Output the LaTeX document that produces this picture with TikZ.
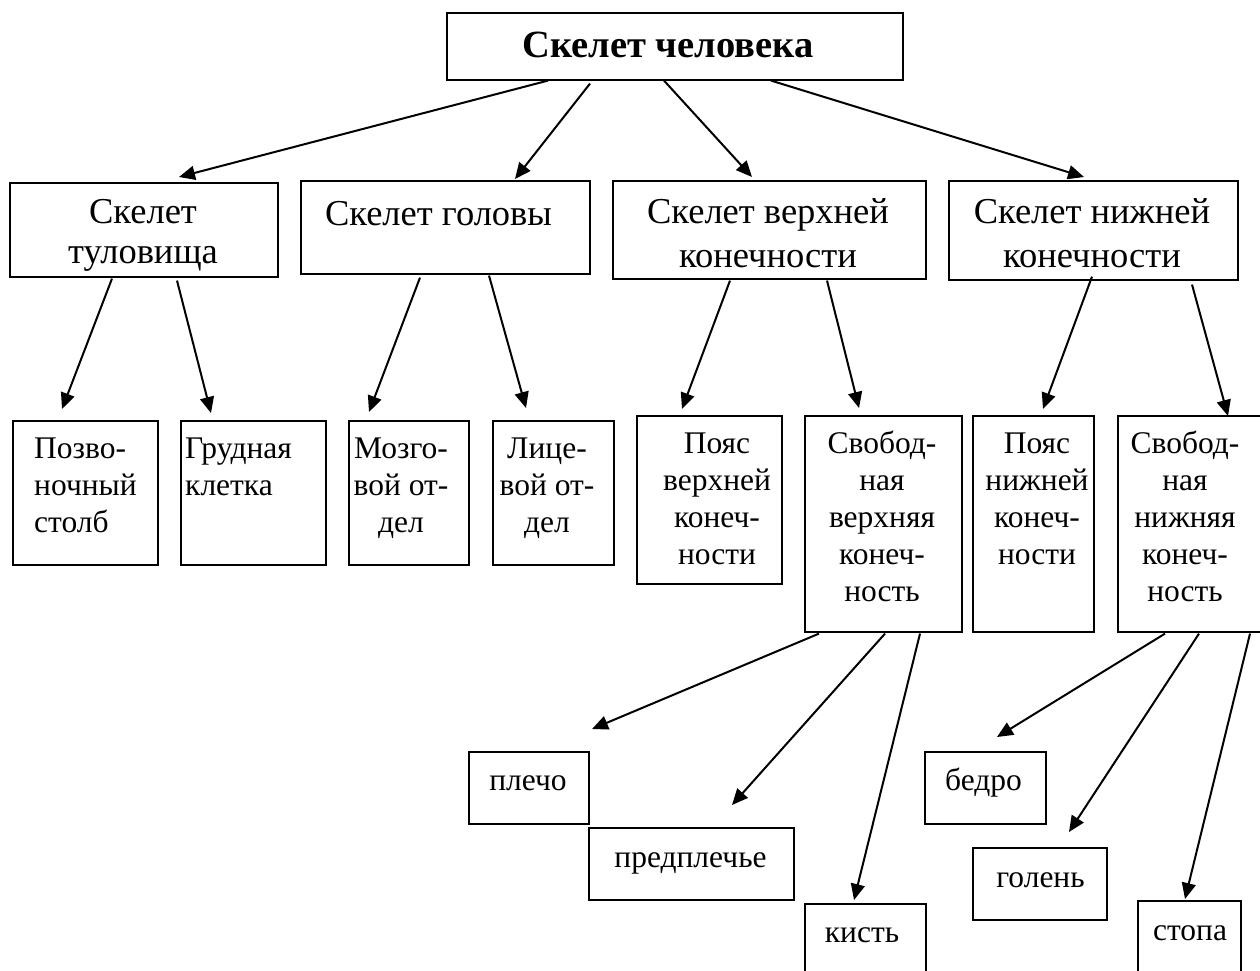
\documentclass[tikz,border=0pt]{standalone}
\usepackage{fontspec}
\setmainfont{Liberation Serif}
\usetikzlibrary{arrows.meta}
\newcommand\strutA{\rule{0pt}{32pt}}
\newcommand\strutB{\rule{0pt}{28pt}}
\begin{document}
\begin{tikzpicture}[x=1pt,y=-1pt,
  box/.style={draw, line width=1.6pt, inner sep=0pt, anchor=north west},
  arr/.style={line width=2pt, -{Triangle[length=16pt,width=14pt]}},
  big/.style={inner sep=0pt, font=\fontsize{36.5}{44}\selectfont},
  sm/.style={inner sep=0pt, font=\fontsize{31.5}{37}\selectfont}]
\fill[white] (0,0) rectangle (1260,971);
\useasboundingbox (0,0) rectangle (1260,971);
% boxes
\node[box, minimum width=456pt, minimum height=67pt] (top) at (446,12) {};
\node[box, minimum width=268pt, minimum height=94pt] (t1) at (9,182) {};
\node[box, minimum width=289pt, minimum height=93pt] (t2) at (300,180) {};
\node[box, minimum width=313pt, minimum height=98pt] (t3) at (612,180) {};
\node[box, minimum width=289pt, minimum height=99pt] (t4) at (948,180) {};
\node[box, minimum width=145pt, minimum height=144pt] (c1) at (12,420) {};
\node[box, minimum width=145pt, minimum height=144pt] (c2) at (180,420) {};
\node[box, minimum width=120pt, minimum height=144pt] (c3) at (348,420) {};
\node[box, minimum width=121pt, minimum height=144pt] (c4) at (492,420) {};
\node[box, minimum width=145pt, minimum height=168pt] (c5) at (636,415) {};
\node[box, minimum width=157pt, minimum height=216pt] (c6) at (804,415) {};
\node[box, minimum width=121pt, minimum height=216pt] (c7) at (972,415) {};
\node[box, minimum width=148pt, minimum height=216pt] (c8) at (1117,415) {};
\node[box, minimum width=120pt, minimum height=72pt] (d1) at (468,751) {};
\node[box, minimum width=205pt, minimum height=72pt] (d2) at (588,827) {};
\node[box, minimum width=121pt, minimum height=90pt] (d3) at (804,903) {};
\node[box, minimum width=121pt, minimum height=72pt] (e1) at (924,751) {};
\node[box, minimum width=134pt, minimum height=72pt] (e2) at (972,847) {};
\node[box, minimum width=103pt, minimum height=90pt] (e3) at (1137,900) {};
% texts
\node[inner sep=0pt, anchor=base, font=\fontsize{38.5}{44}\selectfont\bfseries] (topt) at (668,58) {Скелет человека};
\node[big, align=center, anchor=north, font=\fontsize{36.5}{40}\selectfont] (t1t) at (143,191) {\strutA Скелет\\туловища};
\node[big, anchor=base] (t2t) at (438.5,225) {Скелет головы};
\node[big, align=center, anchor=north] (t3t) at (768,191) {\strutA Скелет верхней\\конечности};
\node[big, align=center, anchor=north] (t4t) at (1092,191) {\strutA Скелет нижней\\конечности};
\node[sm, align=left, anchor=north west] (c1t) at (34,430) {\strutB Позво-\\ночный\\столб};
\node[sm, align=left, anchor=north west] (c2t) at (185,430) {\strutB Грудная\\клетка};
\node[sm, align=center, anchor=north] (c3t) at (401,430) {\strutB Мозго-\\вой от-\\дел};
\node[sm, align=center, anchor=north] (c4t) at (547,430) {\strutB Лице-\\вой от-\\дел};
\node[sm, align=center, anchor=north] (c5t) at (717,425) {\strutB Пояс\\верхней\\конеч-\\ности};
\node[sm, align=center, anchor=north] (c6t) at (882,425) {\strutB Свобод-\\ная\\верхняя\\конеч-\\ность};
\node[sm, align=center, anchor=north] (c7t) at (1037,425) {\strutB Пояс\\нижней\\конеч-\\ности};
\node[sm, align=center, anchor=north] (c8t) at (1185,425) {\strutB Свобод-\\ная\\нижняя\\конеч-\\ность};
\node[sm, anchor=base] (d1t) at (528,790) {плечо};
\node[sm, anchor=base] (d2t) at (690.5,867) {предплечье};
\node[sm, anchor=base] (d3t) at (862,942) {кисть};
\node[sm, anchor=base] (e1t) at (983.5,790) {бедро};
\node[sm, anchor=base] (e2t) at (1040.5,887) {голень};
\node[sm, anchor=base] (e3t) at (1190,940) {стопа};
% arrows
\draw[arr] ([xshift=102pt]top.south west) -- ([xshift=170pt,yshift=5pt]t1.north west);
\draw[arr] ([xshift=144pt,yshift=-3pt]top.south west) -- ([xshift=215pt,yshift=1pt]t2.north west);
\draw[arr] ([xshift=218pt]top.south west) -- ([xshift=140pt,yshift=3pt]t3.north west);
\draw[arr] ([xshift=325pt]top.south west) -- ([xshift=136pt,yshift=3pt]t4.north west);
\draw[arr] ([xshift=103pt,yshift=-1pt]t1.south west) -- ([xshift=50pt,yshift=11pt]c1.north west);
\draw[arr] ([xshift=168pt,yshift=-3pt]t1.south west) -- ([xshift=31pt,yshift=7pt]c2.north west);
\draw[arr] ([xshift=120pt,yshift=-3pt]t2.south west) -- ([xshift=21pt,yshift=8pt]c3.north west);
\draw[arr] ([xshift=189pt,yshift=-1pt]t2.south west) -- ([xshift=34pt,yshift=12pt]c4.north west);
\draw[arr] ([xshift=118pt,yshift=-1pt]t3.south west) -- ([xshift=46pt,yshift=6pt]c5.north west);
\draw[arr] ([xshift=215pt,yshift=-1pt]t3.south west) -- ([xshift=55pt,yshift=7pt]c6.north west);
\draw[arr] ([xshift=144pt,yshift=4pt]t4.south west) -- ([xshift=71pt,yshift=6pt]c7.north west);
\draw[arr] ([xshift=244pt,yshift=-4pt]t4.south west) -- ([xshift=111pt,yshift=-1pt]c8.north west);
\draw[arr] ([xshift=15pt,yshift=-1pt]c6.south west) -- ([xshift=124pt,yshift=22pt]d1.north west);
\draw[arr] ([xshift=81pt,yshift=-1pt]c6.south west) -- ([xshift=144pt,yshift=22pt]d2.north west);
\draw[arr] ([xshift=116pt,yshift=-1pt]c6.south west) -- ([xshift=50pt,yshift=3pt]d3.north west);
\draw[arr] ([xshift=48pt,yshift=-1pt]c8.south west) -- ([xshift=73pt,yshift=14pt]e1.north west);
\draw[arr] ([xshift=82pt,yshift=-1pt]c8.south west) -- ([xshift=97pt,yshift=15pt]e2.north west);
\draw[arr] ([xshift=133pt,yshift=-1pt]c8.south west) -- ([xshift=48pt,yshift=1pt]e3.north west);
\end{tikzpicture}
\end{document}
